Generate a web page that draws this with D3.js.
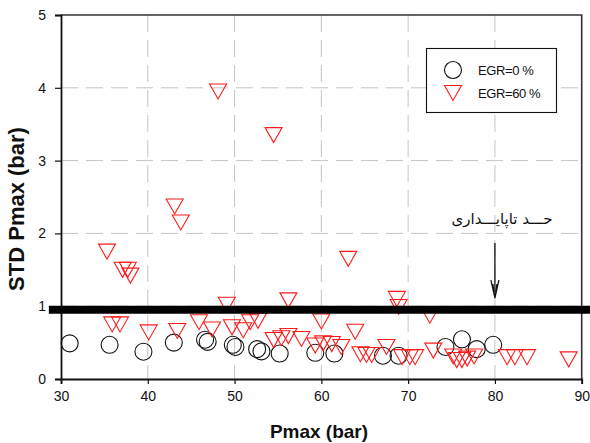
<!DOCTYPE html>
<html>
<head>
<meta charset="utf-8">
<script src="https://cdn.jsdelivr.net/npm/d3@7"></script>
<style>
  html, body { margin: 0; padding: 0; background: #fff; }
  svg { display: block; font-family: "Liberation Sans", Arial, sans-serif; }
</style>
</head>
<body>
<svg id="chart" width="590" height="443"></svg>
<script>
// Peak pressure (bar) vs. its standard deviation (bar), two EGR rates
const egr0 = [
  [31.0, 0.49], [35.6, 0.47], [39.5, 0.375], [43.0, 0.50], [46.6, 0.54], [46.9, 0.51],
  [49.8, 0.47], [50.1, 0.44], [52.6, 0.41], [53.1, 0.38], [55.2, 0.35], [59.3, 0.36],
  [61.5, 0.35], [67.1, 0.32], [68.9, 0.32], [74.3, 0.44], [76.2, 0.545], [77.9, 0.41],
  [79.8, 0.47]
];
const egr60 = [
  [48.1, 3.95], [54.5, 3.35], [43.1, 2.37], [43.8, 2.15], [35.3, 1.75], [37.1, 1.50],
  [37.7, 1.50], [38.0, 1.42], [63.1, 1.65], [49.1, 1.02], [56.2, 1.08], [68.7, 1.10],
  [68.9, 0.99], [72.5, 0.87],
  [35.9, 0.75], [36.8, 0.75], [40.1, 0.64], [43.4, 0.66], [45.9, 0.78], [47.4, 0.68],
  [49.7, 0.71], [51.0, 0.67], [51.8, 0.78], [52.7, 0.80], [54.5, 0.535], [55.4, 0.56],
  [56.2, 0.59], [57.7, 0.55], [60.0, 0.79], [59.3, 0.46], [60.2, 0.49], [61.2, 0.48],
  [62.3, 0.44], [63.9, 0.65], [64.5, 0.34], [65.2, 0.33], [65.8, 0.33], [67.5, 0.44],
  [69.3, 0.30], [70.2, 0.30], [70.8, 0.30], [72.9, 0.39], [75.2, 0.31], [75.6, 0.26],
  [76.2, 0.26], [76.8, 0.28], [77.6, 0.31], [81.4, 0.30], [82.3, 0.30], [83.7, 0.30],
  [88.5, 0.27]
];
const xTicks = [30, 40, 50, 60, 70, 80, 90];
const yTicks = [0, 1, 2, 3, 4, 5];
const stabilityLimit = 0.95;
const arrowAt = 80;
const seriesNames = ["EGR=0 %", "EGR=60 %"];
const limitLabel = "حـــد تاپایـــداری";
const xTitle = "Pmax (bar)";
const yTitle = "STD Pmax (bar)";

const svg = d3.select("#chart");
const plotL = 61, plotR = 581.7, plotT = 15, plotB = 379;

const x = d3.scaleLinear().domain([30, 90]).range([plotL, plotR]);
const y = d3.scaleLinear().domain([0, 5]).range([plotB, plotT]);

// dashed grid
const grid = svg.append("g").attr("stroke", "#c4c4c4").attr("stroke-width", 1)
  .attr("stroke-dasharray", "17,8");
grid.selectAll(".gx").data(xTicks.slice(1, -1)).join("line")
  .attr("x1", d => x(d)).attr("x2", d => x(d))
  .attr("y1", plotT).attr("y2", plotB);
grid.selectAll(".gy").data(yTicks.slice(1, -1)).join("line")
  .attr("x1", plotL).attr("x2", plotR)
  .attr("y1", d => y(d)).attr("y2", d => y(d));

// frame top/right
svg.append("path")
  .attr("d", `M${plotL},${plotT}H${plotR}V${plotB}`)
  .attr("fill", "none").attr("stroke", "#333").attr("stroke-width", 1.6);

// axes
const xAxis = svg.append("g").attr("transform", `translate(0,${plotB})`)
  .call(d3.axisBottom(x).tickValues(xTicks).tickSize(5).tickPadding(7).tickFormat(d3.format("d")));
const yAxis = svg.append("g").attr("transform", `translate(${plotL},0)`)
  .call(d3.axisLeft(y).tickValues(yTicks).tickSize(6).tickPadding(9).tickFormat(d3.format("d")));
[xAxis, yAxis].forEach(a => {
  a.select(".domain").attr("stroke", "#111").attr("stroke-width", 1.8);
  a.selectAll(".tick line").attr("stroke", "#111").attr("stroke-width", 1.2);
  a.selectAll(".tick text").attr("font-size", 14).attr("fill", "#111")
    .attr("font-family", "'Liberation Sans', Arial, sans-serif");
});

// markers
const triW = 17, triH = 15, rad = 8.5;
const triPath = (cx, cy) =>
  `M${cx - triW / 2},${cy - triH / 2}H${cx + triW / 2}L${cx},${cy + triH / 2}Z`;

svg.append("g").selectAll("circle").data(egr0).join("circle")
  .attr("cx", d => x(d[0])).attr("cy", d => y(d[1])).attr("r", rad)
  .attr("fill", "none").attr("stroke", "#111").attr("stroke-width", 1.1);

svg.append("g").selectAll("path").data(egr60).join("path")
  .attr("d", d => triPath(x(d[0]), y(d[1])))
  .attr("fill", "none").attr("stroke", "#ff1a1a").attr("stroke-width", 1.1);

// stability limit line
svg.append("line")
  .attr("x1", x(28.6)).attr("x2", 590)
  .attr("y1", y(stabilityLimit)).attr("y2", y(stabilityLimit))
  .attr("stroke", "#000").attr("stroke-width", 8);

// annotation: label + arrow pointing to the limit
svg.append("text")
  .attr("x", 502).attr("y", 224)
  .attr("text-anchor", "middle")
  .attr("font-family", "'DejaVu Sans', sans-serif").attr("font-size", 15)
  .attr("fill", "#111")
  .text(limitLabel);

const ax = x(arrowAt);
svg.append("line").attr("x1", ax).attr("x2", ax).attr("y1", 243).attr("y2", 292)
  .attr("stroke", "#111").attr("stroke-width", 1.3);
svg.append("path")
  .attr("d", `M${ax - 4},${280}L${ax},${298}L${ax + 4},${280}M${ax - 2},${284}L${ax},${298}L${ax + 2},${284}`)
  .attr("fill", "none").attr("stroke", "#111").attr("stroke-width", 1.2);

// legend
const lg = svg.append("g");
lg.append("rect").attr("x", 426.5).attr("y", 48.5).attr("width", 130).attr("height", 64)
  .attr("fill", "#fff").attr("stroke", "#111").attr("stroke-width", 1.1);
lg.append("circle").attr("cx", 453).attr("cy", 70).attr("r", rad)
  .attr("fill", "none").attr("stroke", "#111").attr("stroke-width", 1.1);
lg.append("path").attr("d", triPath(453, 93))
  .attr("fill", "none").attr("stroke", "#ff1a1a").attr("stroke-width", 1.1);
lg.selectAll("text").data(seriesNames).join("text")
  .attr("x", 478).attr("y", (d, i) => 75 + i * 23)
  .attr("font-size", 13).attr("letter-spacing", -0.4).attr("fill", "#111")
  .text(d => d);

// axis titles
svg.append("text").attr("x", 319).attr("y", 438).attr("text-anchor", "middle")
  .attr("font-size", 19).attr("font-weight", "bold").attr("fill", "#111")
  .text(xTitle);
svg.append("text").attr("transform", "translate(24,209) rotate(-90)")
  .attr("text-anchor", "middle")
  .attr("font-size", 22).attr("font-weight", "bold").attr("fill", "#111")
  .text(yTitle);
</script>
</body>
</html>
